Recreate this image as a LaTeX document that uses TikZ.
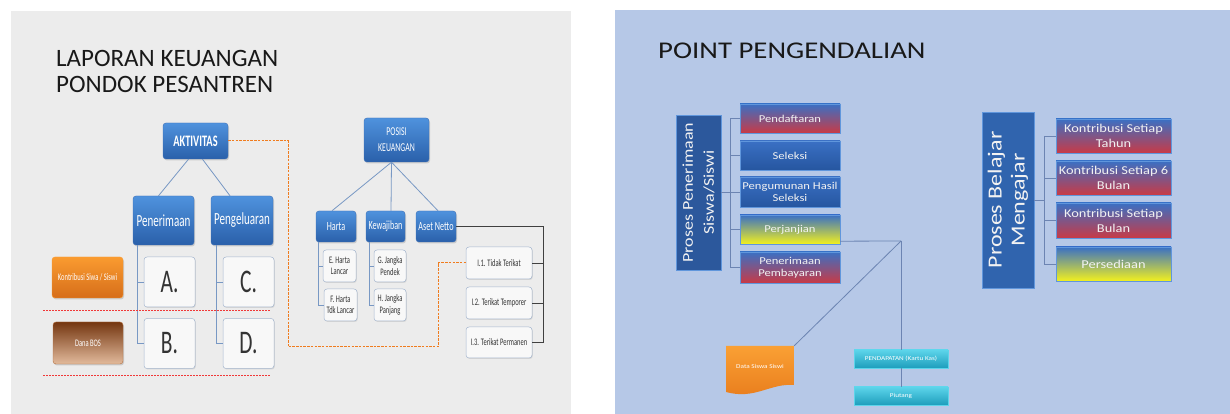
\documentclass[tikz,border=0pt]{standalone}
\usepackage{fontspec}
\setmainfont{Carlito}
\newfontfamily\narrowfont[FakeStretch=0.65]{Carlito}
\newfontfamily\widefont[FakeStretch=1.2]{Carlito}
\usetikzlibrary{shadows}

\definecolor{leftbg}{RGB}{236,236,236}
\definecolor{rightbg}{RGB}{182,200,231}
\definecolor{btop}{RGB}{79,146,221}
\definecolor{bbot}{RGB}{42,96,170}
\definecolor{bline}{RGB}{62,112,182}
\definecolor{paper}{RGB}{248,248,248}
\definecolor{paperline}{RGB}{165,182,206}
\definecolor{lineblue}{RGB}{120,152,196}
\definecolor{orangetop}{RGB}{250,155,48}
\definecolor{orangebot}{RGB}{214,110,26}
\definecolor{browntop}{RGB}{116,54,16}
\definecolor{brownmid}{RGB}{182,112,62}
\definecolor{brownbot}{RGB}{226,186,156}
\definecolor{dashorange}{RGB}{240,124,30}
\definecolor{dashred}{RGB}{240,56,56}
\definecolor{rblue}{RGB}{58,112,196}
\definecolor{rblue2}{RGB}{38,86,160}
\definecolor{rred}{RGB}{200,58,70}
\definecolor{ryellow}{RGB}{242,240,30}
\definecolor{rboxline}{RGB}{96,150,220}
\definecolor{procblue}{RGB}{44,88,156}
\definecolor{procblue2}{RGB}{48,100,174}
\definecolor{tealtop}{RGB}{92,212,234}
\definecolor{tealbot}{RGB}{30,158,188}
\definecolor{rline}{RGB}{108,132,178}
\definecolor{doctop}{RGB}{250,160,52}
\definecolor{docbot}{RGB}{232,124,28}

\begin{document}
\begin{tikzpicture}[
    bluebox/.style={rectangle, rounded corners=3pt, draw=bline, line width=0.4pt,
        top color=btop, bottom color=bbot, text=white, align=center, inner sep=1pt,
        drop shadow={shadow xshift=1pt, shadow yshift=-1.5pt, opacity=0.3}},
    paperbox/.style={rectangle, rounded corners=3pt, draw=paperline, line width=0.5pt,
        fill=paper, text=black!80, align=center, inner sep=1pt,
        drop shadow={shadow xshift=0.8pt, shadow yshift=-1pt, opacity=0.2}},
    rbox/.style={rectangle, draw=rboxline, line width=0.4pt, text=white!95!black,
        align=center, inner sep=1pt,
        font=\widefont\fontsize{10.5pt}{12pt}\selectfont,
        drop shadow={shadow xshift=1pt, shadow yshift=-1.5pt, opacity=0.25}},
    kbox/.style={rbox, font=\widefont\fontsize{12pt}{15pt}\selectfont,
        minimum width = 115pt},
    tealbox/.style={rectangle, draw=tealtop, line width=0.4pt,
        top color=tealtop, bottom color=tealbot, text=white, inner sep=1pt,
        font=\widefont\fontsize{6pt}{7pt}\selectfont,
        minimum width = 94pt, minimum height = 18pt,
        drop shadow={shadow xshift=1pt, shadow yshift=-1.5pt, opacity=0.25}},
    tree/.style={draw=lineblue, line width=0.8pt},
    bus/.style={draw=black!75, line width=0.8pt},
    rconn/.style={draw=rline, line width=0.8pt},
    flow/.style={draw=dashorange, line width=1pt, dash pattern=on 2.5pt off 1.2pt},
    split/.style={draw=dashred, line width=0.9pt, dash pattern=on 2pt off 1pt}
    ]
        \useasboundingbox (0pt,0pt) rectangle (1230pt,414pt);
        \fill[leftbg] (11pt,0pt) rectangle (571pt,403pt);
        \fill[rightbg] (615pt,0pt) rectangle (1230pt,404pt);

        % laporan keuangan
        \node[anchor=north west,
        inner sep=0pt,
        align=left,
        text=black!90,
        font=\fontsize{25pt}{26pt}\selectfont
        ](lapor) at (56pt,364pt) {LAPORAN KEUANGAN\\PONDOK PESANTREN};

        \node[bluebox,
        font=\narrowfont\bfseries\fontsize{16pt}{18pt}\selectfont,
        minimum width = 65pt,
        minimum height = 36pt
        ](akt) at (195.5pt,273pt) {AKTIVITAS};

        \node[bluebox,
        font=\narrowfont\fontsize{17pt}{19pt}\selectfont,
        minimum width = 61pt,
        minimum height = 49pt
        ](pen) at (163.5pt,193.5pt) {Penerimaan};

        \node[bluebox,
        font=\narrowfont\fontsize{17pt}{19pt}\selectfont,
        minimum width = 62pt,
        minimum height = 49pt
        ](peng) at (242pt,193.5pt) {Pengeluaran};

        \node[paperbox,
        font=\narrowfont\fontsize{33pt}{35pt}\selectfont,
        minimum width = 51pt,
        minimum height = 50pt
        ](boxa) at (169.5pt,132pt) {A.};

        \node[paperbox,
        font=\narrowfont\fontsize{33pt}{35pt}\selectfont,
        minimum width = 51pt,
        minimum height = 50pt
        ](boxb) at (169.5pt,70.5pt) {B.};

        \node[paperbox,
        font=\narrowfont\fontsize{33pt}{35pt}\selectfont,
        minimum width = 51pt,
        minimum height = 50pt
        ](boxc) at (248.5pt,132pt) {C.};

        \node[paperbox,
        font=\narrowfont\fontsize{33pt}{35pt}\selectfont,
        minimum width = 51pt,
        minimum height = 50pt
        ](boxd) at (248.5pt,70.5pt) {D.};

        \node[bluebox,
        draw=orangetop,
        top color=orangetop,
        bottom color=orangebot,
        font=\narrowfont\fontsize{10pt}{12pt}\selectfont,
        minimum width = 71pt,
        minimum height = 41pt
        ](kontr) at (87.5pt,136.5pt) {Kontribusi Siwa / Siswi};

        \node[bluebox,
        draw=brownmid,
        top color=browntop,
        middle color=brownmid,
        bottom color=brownbot,
        font=\narrowfont\fontsize{10pt}{12pt}\selectfont,
        minimum width = 70pt,
        minimum height = 42pt
        ](dana) at (88pt,71pt) {Dana BOS};

        \node[bluebox,
        font=\narrowfont\fontsize{12pt}{16pt}\selectfont,
        minimum width = 65pt,
        minimum height = 44pt
        ](pos) at (396.5pt,274pt) {POSISI\\KEUANGAN};

        \node[bluebox,
        font=\narrowfont\fontsize{12.5pt}{14pt}\selectfont,
        minimum width = 40pt,
        minimum height = 31pt
        ](harta) at (336pt,187.5pt) {Harta};

        \node[bluebox,
        font=\narrowfont\fontsize{12.5pt}{14pt}\selectfont,
        minimum width = 39pt,
        minimum height = 31pt
        ](kew) at (385.5pt,187.5pt) {Kewajiban};

        \node[bluebox,
        font=\narrowfont\fontsize{12.5pt}{14pt}\selectfont,
        minimum width = 40pt,
        minimum height = 31pt
        ](aset) at (436pt,187.5pt) {Aset Netto};

        \node[paperbox,
        font=\narrowfont\fontsize{10pt}{11.5pt}\selectfont,
        minimum width = 33pt,
        minimum height = 32pt
        ](boxe) at (339.5pt,148pt) {E. Harta\\Lancar};

        \node[paperbox,
        font=\narrowfont\fontsize{10pt}{11.5pt}\selectfont,
        minimum width = 33pt,
        minimum height = 32pt
        ](boxf) at (340.5pt,109pt) {F. Harta\\Tdk Lancar};

        \node[paperbox,
        font=\narrowfont\fontsize{10pt}{11.5pt}\selectfont,
        minimum width = 32pt,
        minimum height = 32pt
        ](boxg) at (390pt,148pt) {G. Jangka\\Pendek};

        \node[paperbox,
        font=\narrowfont\fontsize{10pt}{11.5pt}\selectfont,
        minimum width = 32pt,
        minimum height = 32pt
        ](boxh) at (390pt,109pt) {H. Jangka\\Panjang};

        \node[paperbox,
        font=\narrowfont\fontsize{10pt}{12pt}\selectfont,
        minimum width = 66pt,
        minimum height = 32pt
        ](boxi1) at (499pt,151pt) {I.1. Tidak Terikat};

        \node[paperbox,
        font=\narrowfont\fontsize{10pt}{12pt}\selectfont,
        minimum width = 66pt,
        minimum height = 32pt
        ](boxi2) at (499pt,111pt) {I.2. Terikat Temporer};

        \node[paperbox,
        font=\narrowfont\fontsize{10pt}{12pt}\selectfont,
        minimum width = 66pt,
        minimum height = 31pt
        ](boxi3) at (499pt,71.5pt) {I.3. Terikat Permanen};

        \draw[tree] ([xshift=-7pt]akt.south) -- ([xshift=-5pt]pen.north);
        \draw[tree] ([xshift=7pt]akt.south) -- ([xshift=-12pt]peng.north);
        \draw[tree] ([xshift=5pt]pen.south west) |- (boxa.west);
        \draw[tree] ([xshift=5pt]pen.south west) |- (boxb.west);
        \draw[tree] ([xshift=6pt]peng.south west) |- (boxc.west);
        \draw[tree] ([xshift=6pt]peng.south west) |- (boxd.west);

        \draw[tree] ([xshift=-5pt]pos.south) -- ([xshift=-4pt]harta.north);
        \draw[tree] ([xshift=-5pt]pos.south) -- ([xshift=5.5pt]kew.north);
        \draw[tree] ([xshift=-5pt]pos.south) -- ([xshift=2pt]aset.north);
        \draw[tree] ([xshift=3pt]harta.south west) |- (boxe.west);
        \draw[tree] ([xshift=3pt]harta.south west) |- (boxf.west);
        \draw[tree] ([xshift=4pt]kew.south west) |- (boxg.west);
        \draw[tree] ([xshift=4pt]kew.south west) |- (boxh.west);

        \draw[bus] (aset.east) -| ([xshift=11pt]boxi3.east) -- (boxi3.east);
        \draw[bus] ([xshift=11pt]boxi1.east) -- (boxi1.east);
        \draw[bus] ([xshift=11pt]boxi2.east) -- (boxi2.east);

        \coordinate (bendA) at (288pt,67pt);
        \coordinate (bendB) at (438pt,151pt);
        \draw[flow] (akt.east) -| (bendA) -| (bendB) -- (boxi1.west);

        \draw[split] (43pt,104pt) -- (270pt,104pt);
        \draw[split] (43pt,39pt) -- (270pt,39pt);

        % point pengendalian
        \node[anchor=north west,
        inner sep=0pt,
        text=black!90,
        font=\widefont\fontsize{24pt}{26pt}\selectfont
        ](point) at (658pt,371pt) {POINT PENGENDALIAN};

        \node[rbox,
        rotate=90,
        fill=procblue,
        font=\widefont\fontsize{15pt}{21pt}\selectfont,
        minimum width = 155pt,
        minimum height = 45pt
        ](pp) at (698.5pt,221.5pt) {Proses Penerimaan\\Siswa/Siswi};

        \node[rbox,
        top color=rblue,
        bottom color=rred,
        minimum width = 100pt,
        minimum height = 29pt
        ](pend) at (790pt,295.5pt) {Pendaftaran};

        \node[rbox,
        top color=rblue,
        bottom color=rblue2,
        minimum width = 100pt,
        minimum height = 29pt
        ](sel) at (790pt,258.5pt) {Seleksi};

        \node[rbox,
        top color=rblue,
        bottom color=rblue2,
        minimum width = 100pt,
        minimum height = 30pt
        ](umum) at (790pt,222pt) {Pengumunan Hasil\\Seleksi};

        \node[rbox,
        top color=rblue,
        bottom color=ryellow,
        minimum width = 100pt,
        minimum height = 29pt
        ](janji) at (790pt,184.5pt) {Perjanjian};

        \node[rbox,
        top color=rblue,
        bottom color=rred,
        minimum width = 100pt,
        minimum height = 31pt
        ](bayar) at (790pt,146.5pt) {Penerimaan\\Pembayaran};

        \node[rbox,
        rotate=90,
        fill=procblue2,
        font=\widefont\fontsize{20pt}{23pt}\selectfont,
        minimum width = 176pt,
        minimum height = 52pt
        ](pbm) at (1008pt,214pt) {Proses Belajar\\Mengajar};

        \node[kbox,
        top color=rblue,
        bottom color=rred,
        minimum height = 34pt
        ](tahun) at (1113.5pt,278pt) {Kontribusi Setiap\\Tahun};

        \node[kbox,
        top color=rblue,
        bottom color=rred,
        minimum height = 34pt
        ](enam) at (1113.5pt,236pt) {Kontribusi Setiap 6\\Bulan};

        \node[kbox,
        top color=rblue,
        bottom color=rred,
        minimum height = 35pt
        ](bulan) at (1113.5pt,193.5pt) {Kontribusi Setiap\\Bulan};

        \node[kbox,
        top color=rblue,
        bottom color=ryellow,
        minimum height = 34pt
        ](sedia) at (1113.5pt,150pt) {Persediaan};

        \node[tealbox
        ](kas) at (901pt,55pt) {PENDAPATAN (Kartu Kas)};

        \node[tealbox
        ](piutang) at (901pt,18pt) {Piutang};

        % data siswa
        \path[top color=doctop, bottom color=docbot]
            (726pt,68pt) -- (794pt,68pt) -- (794pt,29pt)
            .. controls (770pt,31pt) and (755pt,14pt) .. (726pt,22pt) -- cycle;
        \node[text=white,
        font=\widefont\fontsize{6pt}{7pt}\selectfont,
        minimum width = 68pt,
        minimum height = 40pt
        ](data) at (760pt,48pt) {Data Siswa Siswi};

        \coordinate (ppbus) at ([xshift=-9pt]pend.west);
        \draw[rconn] (pp.south) -- (pp.south -| ppbus);
        \draw[rconn] (ppbus) |- (bayar.west);
        \foreach \b in {pend,sel,umum,janji}
            \draw[rconn] (\b.west) -- (\b.west -| ppbus);

        \coordinate (pbmbus) at ([xshift=-11pt]tahun.west);
        \draw[rconn] (pbm.south) -- (pbm.south -| pbmbus);
        \draw[rconn] (pbmbus) |- (sedia.west);
        \foreach \b in {tahun,enam,bulan}
            \draw[rconn] (\b.west) -- (\b.west -| pbmbus);

        \coordinate (jct) at (901pt,173pt);
        \draw[rconn] ([yshift=3pt]janji.south east) -- (jct);
        \draw[rconn] (jct) -- (kas.north);
        \draw[rconn] (kas.south) -- (piutang.north);
        \draw[rconn] (jct) -- (data.north east);

    \end{tikzpicture}
\end{document}
